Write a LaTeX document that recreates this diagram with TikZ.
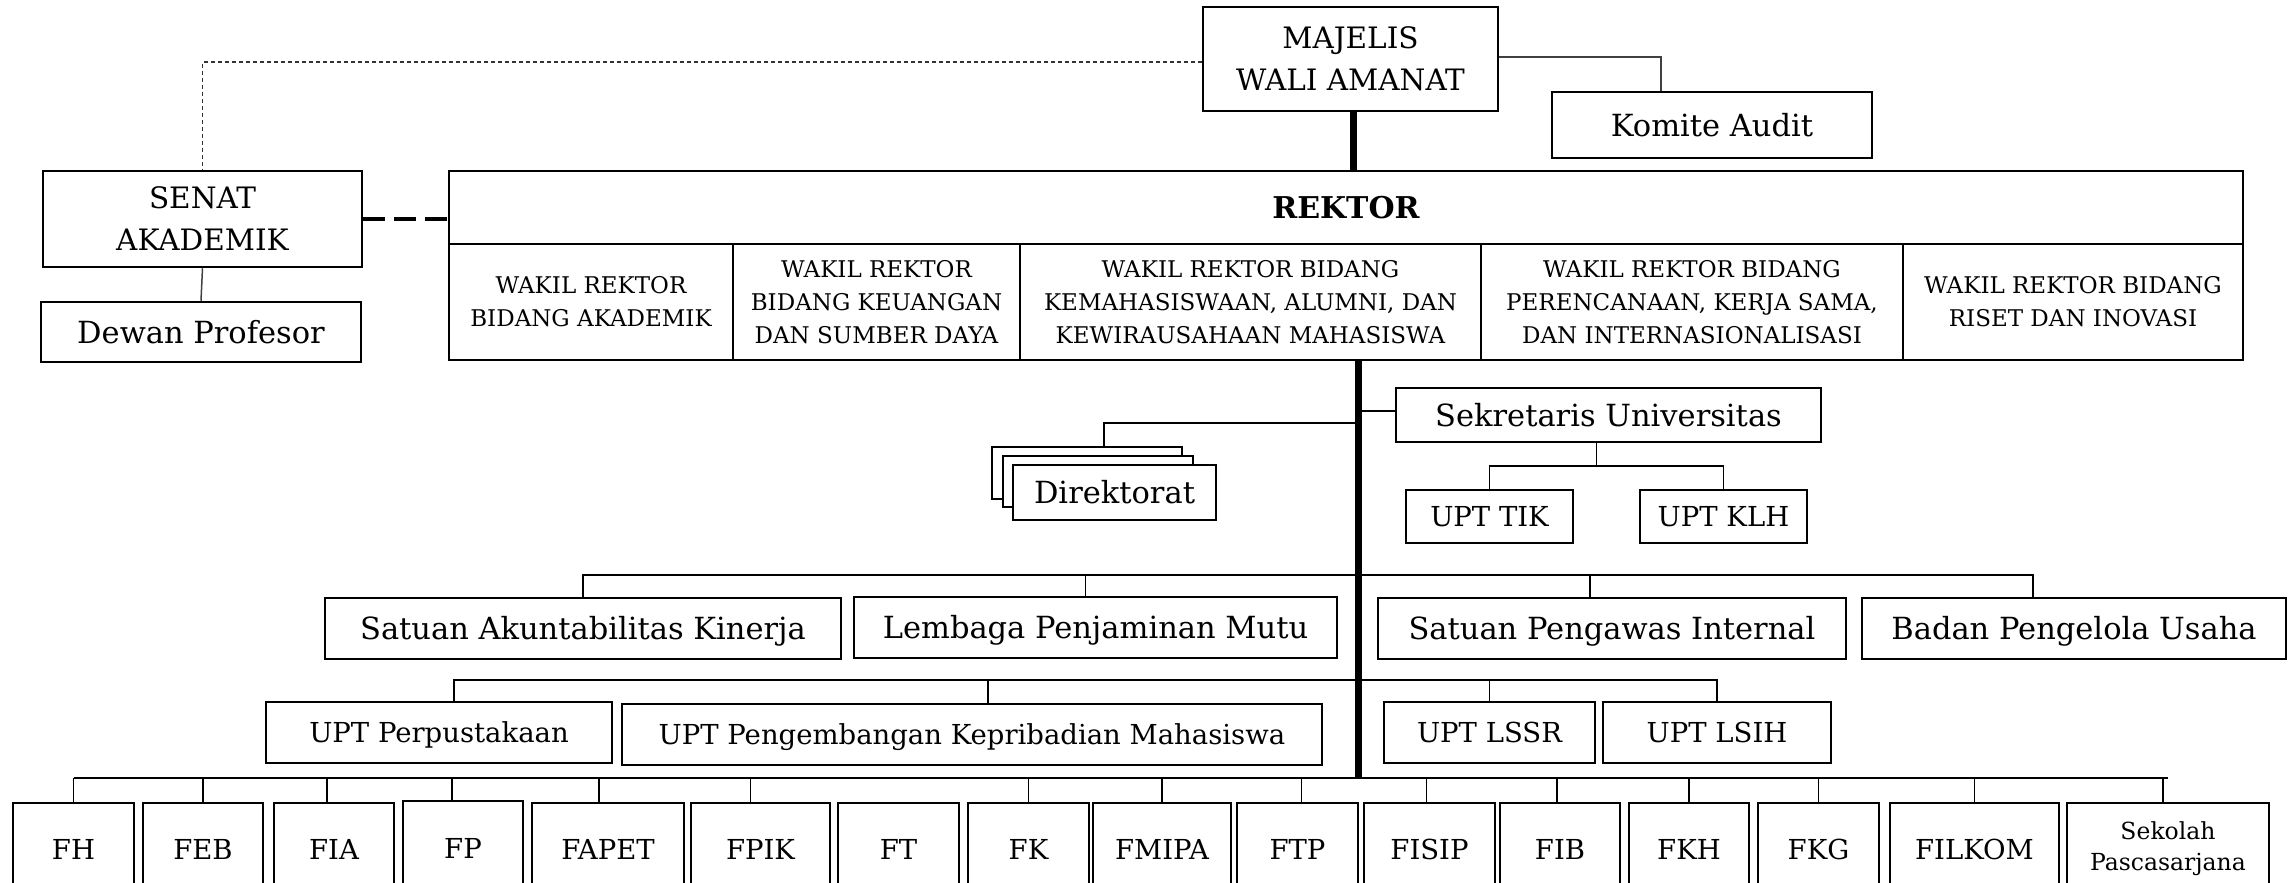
\documentclass[tikz,border=0pt]{standalone}
\usepackage{fontspec}
\setmainfont{DejaVu Serif}
\usetikzlibrary{calc}
\pgfdeclarelayer{background}
\pgfsetlayers{background,main}
\newcommand\bx[7][]{\node[box,#1,minimum width={(#5-#3)*1pt},minimum height={(#6-#4)*1pt}] (#2) at ({(#3+#5)/2},{(#4+#6)/2}) {#7};}
\begin{document}
\begin{tikzpicture}[x=1pt,y=-1pt,
  box/.style={draw,line width=2.5pt,fill=white,inner sep=0pt,align=center},
  big/.style={font=\fontsize{30.5}{42}\selectfont,text height=22.2pt,text depth=0pt},
  bigml/.style={font=\fontsize{29.5}{42}\selectfont},
  mid/.style={font=\fontsize{27.5}{36}\selectfont,text height=20pt,text depth=0pt},
  wak/.style={font=\fontsize{23}{33}\selectfont},
  rek/.style={font=\fontsize{30}{36}\selectfont\bfseries,text height=21.9pt,text depth=0pt},
  sek/.style={font=\fontsize{23.5}{31}\selectfont},
  conn/.style={line width=1.8pt},
  thinconn/.style={line width=1.5pt,black!75},
  thindash/.style={line width=1.1pt,black!80,dash pattern=on 4pt off 3pt},
  thickdash/.style={line width=4pt,dash pattern=on 22pt off 9pt},
  trunk/.style={line width=7pt},
]
\useasboundingbox (0,0) rectangle (2295,883);

% top level
\bx[bigml]{mwa}{1203}{7}{1498}{111}{MAJELIS\\WALI AMANAT}
\bx[big]{komite}{1552}{92}{1872}{158}{Komite Audit}
\bx[bigml]{senat}{43}{171}{362}{267}{SENAT\\AKADEMIK}
\bx[big]{dewan}{41}{302}{361}{362}{Dewan Profesor}

% rektor block
\bx[rek]{rektor}{449}{171}{2243}{244}{REKTOR}
\bx[wak]{wr1}{449}{244}{733}{360}{WAKIL REKTOR\\BIDANG AKADEMIK}
\bx[wak]{wr2}{733}{244}{1020}{360}{WAKIL REKTOR\\BIDANG KEUANGAN\\DAN SUMBER DAYA}
\bx[wak]{wr3}{1020}{244}{1481}{360}{WAKIL REKTOR BIDANG\\KEMAHASISWAAN, ALUMNI, DAN\\KEWIRAUSAHAAN MAHASISWA}
\bx[wak]{wr4}{1481}{244}{1903}{360}{WAKIL REKTOR BIDANG\\PERENCANAAN, KERJA SAMA,\\DAN INTERNASIONALISASI}
\bx[wak]{wr5}{1903}{244}{2243}{360}{WAKIL REKTOR BIDANG\\RISET DAN INOVASI}

% secretary and directorate
\bx[big]{sekr}{1396}{388}{1821}{442}{Sekretaris Universitas}
\bx[mid]{tik}{1406}{490}{1573}{543}{UPT TIK}
\bx[mid]{klh}{1640}{490}{1807}{543}{UPT KLH}
\bx{dir3}{992}{447}{1182}{499}{}
\bx{dir2}{1003}{456}{1193}{507}{}
\bx[big]{dir}{1013}{465}{1216}{520}{Direktorat}

% row 1
\bx[big]{sak}{325}{598}{841}{659}{Satuan Akuntabilitas Kinerja}
\bx[big]{lpm}{854}{597}{1337}{658}{Lembaga Penjaminan Mutu}
\bx[big]{spi}{1378}{598}{1846}{659}{Satuan Pengawas Internal}
\bx[big]{bpu}{1862}{598}{2286}{659}{Badan Pengelola Usaha}

% row 2
\bx[mid]{perp}{266}{702}{612}{763}{UPT Perpustakaan}
\bx[mid]{peng}{622}{704}{1322}{765}{UPT Pengembangan Kepribadian Mahasiswa}
\bx[mid]{lssr}{1384}{702}{1595}{763}{UPT LSSR}
\bx[mid]{lsih}{1603}{702}{1831}{763}{UPT LSIH}

% faculties
\bx[mid]{fh}{13}{803}{134}{895}{FH}
\bx[mid]{feb}{143}{803}{263}{895}{FEB}
\bx[mid]{fia}{274}{803}{394}{895}{FIA}
\bx[mid]{fp}{403}{801}{523}{895}{FP}
\bx[mid]{fapet}{532}{803}{684}{895}{FAPET}
\bx[mid]{fpik}{691}{803}{830}{895}{FPIK}
\bx[mid]{ft}{838}{803}{959}{895}{FT}
\bx[mid]{fk}{968}{803}{1089}{895}{FK}
\bx[mid]{fmipa}{1093}{803}{1231}{895}{FMIPA}
\bx[mid]{ftp}{1237}{803}{1358}{895}{FTP}
\bx[mid]{fisip}{1364}{803}{1495}{895}{FISIP}
\bx[mid]{fib}{1500}{803}{1620}{895}{FIB}
\bx[mid]{fkh}{1629}{803}{1749}{895}{FKH}
\bx[mid]{fkg}{1758}{803}{1879}{895}{FKG}
\bx[mid]{filkom}{1890}{803}{2059}{895}{FILKOM}
\bx[sek]{sps}{2067}{803}{2269}{895}{Sekolah\\Pascasarjana}

% bus coordinates
\coordinate (tA) at (1358,360);
\coordinate (tB) at (1358,778);
\coordinate (dj) at (1358,423);
\coordinate (sbus) at (0,466);
\coordinate (r1) at (0,575);
\coordinate (r2) at (0,680);
\coordinate (fbus) at (0,778);

\begin{pgfonlayer}{background}
% top connections
\draw[thindash] ([yshift=-3pt]mwa.west) -| (senat.north);
\draw[thinconn] ([yshift=2pt]mwa.east) -| ([xshift=-51pt]komite.north);
\draw[trunk] ([xshift=2.5pt]mwa.south) -- ([xshift=2.5pt]mwa.south |- rektor.north);
\draw[thickdash] (senat.east) -- (senat.east -| rektor.west);
\draw[thinconn] (senat.south) -- (dewan.north);
% main trunk
\draw[trunk] (tA) -- (tB);
% secretary and directorate
\draw[conn] ([yshift=4pt]sekr.west) -- ([yshift=4pt]sekr.west -| tA);
\draw[conn] ([xshift=-12pt]sekr.south) -- ([xshift=-12pt]sekr.south |- sbus);
\draw[conn] (tik.north) |- (klh.north |- sbus) -- (klh.north);
\draw[conn] (dj) -| ([xshift=17pt]dir3.north);
% row 1
\draw[conn] (sak.north) |- ([xshift=-41pt]bpu.north |- r1) -- ([xshift=-41pt]bpu.north);
\draw[conn] ([xshift=-10pt]lpm.north) -- ([xshift=-10pt]lpm.north |- r1);
\draw[conn] ([xshift=-22pt]spi.north) -- ([xshift=-22pt]spi.north |- r1);
% row 2
\draw[conn] ([xshift=15pt]perp.north) |- (lsih.north |- r2) -- (lsih.north);
\draw[conn] ([xshift=16pt]peng.north) -- ([xshift=16pt]peng.north |- r2);
\draw[conn] (lssr.north) -- (lssr.north |- r2);
% faculties
\draw[conn] (fh.north |- fbus) -- (sps.north |- fbus);
\foreach \n/\s in {fh/0,feb/0,fia/-7,fp/-11,fapet/-9,fpik/-10,fk/0,fmipa/0,ftp/4,fisip/-3,fib/-3,fkh/0,fkg/0,filkom/0,sps/-5}
  \draw[conn] ([xshift=\s pt]\n.north) -- ([xshift=\s pt]\n.north |- fbus);
\end{pgfonlayer}
\end{tikzpicture}
\end{document}
